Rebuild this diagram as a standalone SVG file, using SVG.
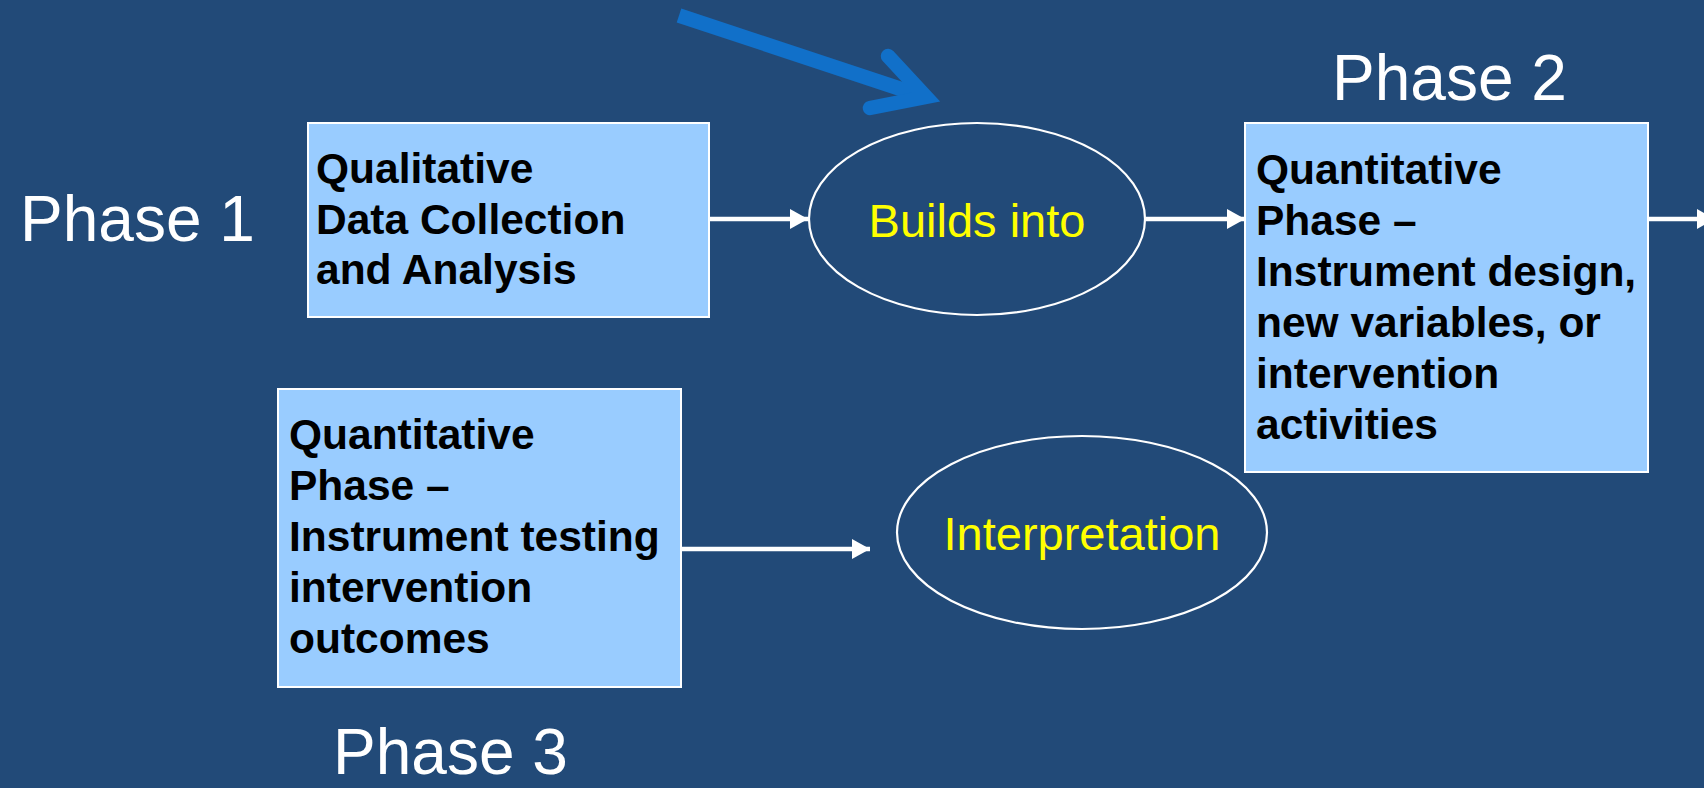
<svg xmlns="http://www.w3.org/2000/svg" width="1704" height="788" viewBox="0 0 1704 788">
  <style>
    .box { fill: #99ccff; stroke: #ffffff; stroke-width: 2; }
    .oval { fill: none; stroke: #ffffff; stroke-width: 2.2; }
    .btext { font-family: "Liberation Sans", Arial, sans-serif; font-weight: bold; font-size: 42.5px; fill: #000000; }
    .otext { font-family: "Liberation Sans", Arial, sans-serif; font-size: 47px; fill: #ffff00; text-anchor: middle; }
    .phase { font-family: "Liberation Sans", Arial, sans-serif; font-size: 64px; fill: #ffffff; }
    .link { stroke: #ffffff; stroke-width: 4.5; fill: none; marker-end: url(#head); }
    .pointer { stroke: #1170c9; stroke-width: 14.5; fill: none; }
  </style>
  <defs>
    <marker id="head" markerUnits="userSpaceOnUse" viewBox="0 0 18 20" refX="18" refY="10" markerWidth="18" markerHeight="20" orient="auto">
      <path d="M0,0 L18,10 L0,20 Z" fill="#ffffff"/>
    </marker>
  </defs>

  <!-- slide background -->
  <rect x="0" y="0" width="1704" height="788" fill="#224a78"/>

  <!-- phase labels -->
  <g id="labels">
    <text class="phase" x="20" y="241">Phase 1</text>
    <text class="phase" x="1332" y="100">Phase 2</text>
    <text class="phase" x="333" y="774">Phase 3</text>
  </g>

  <!-- highlight pointer -->
  <g id="pointer">
    <path class="pointer" d="M679,15.5 L922,96"/>
    <path class="pointer" d="M888,56 L926,97 L870,108" stroke-linecap="round" stroke-linejoin="miter"/>
  </g>

  <g id="qual">
    <rect class="box" x="308" y="123" width="401" height="194"/>
    <text class="btext" x="316">
      <tspan x="316" y="183">Qualitative</tspan>
      <tspan x="316" y="233.5">Data Collection</tspan>
      <tspan x="316" y="284">and Analysis</tspan>
    </text>
  </g>

  <g id="builds">
    <ellipse class="oval" cx="977" cy="219" rx="168" ry="96"/>
    <text class="otext" x="977" y="237">Builds into</text>
  </g>

  <g id="quant-design">
    <rect class="box" x="1245" y="123" width="403" height="349"/>
    <text class="btext">
      <tspan x="1256" y="184">Quantitative</tspan>
      <tspan x="1256" y="235">Phase –</tspan>
      <tspan x="1256" y="286">Instrument design,</tspan>
      <tspan x="1256" y="337">new variables, or</tspan>
      <tspan x="1256" y="388">intervention</tspan>
      <tspan x="1256" y="439">activities</tspan>
    </text>
  </g>

  <g id="quant-testing">
    <rect class="box" x="278" y="389" width="403" height="298"/>
    <text class="btext">
      <tspan x="289" y="449">Quantitative</tspan>
      <tspan x="289" y="500">Phase –</tspan>
      <tspan x="289" y="551">Instrument testing</tspan>
      <tspan x="289" y="602">intervention</tspan>
      <tspan x="289" y="653">outcomes</tspan>
    </text>
  </g>

  <g id="interpretation">
    <ellipse class="oval" cx="1082" cy="532.5" rx="185" ry="96.5"/>
    <text class="otext" x="1082" y="550">Interpretation</text>
  </g>

  <g id="connectors">
    <path class="link" d="M709,219 L808,219"/>
    <path class="link" d="M1146,219 L1245,219"/>
    <path class="link" d="M1649,219 L1715,219"/>
    <path class="link" d="M682,549 L870,549"/>
  </g>
</svg>
